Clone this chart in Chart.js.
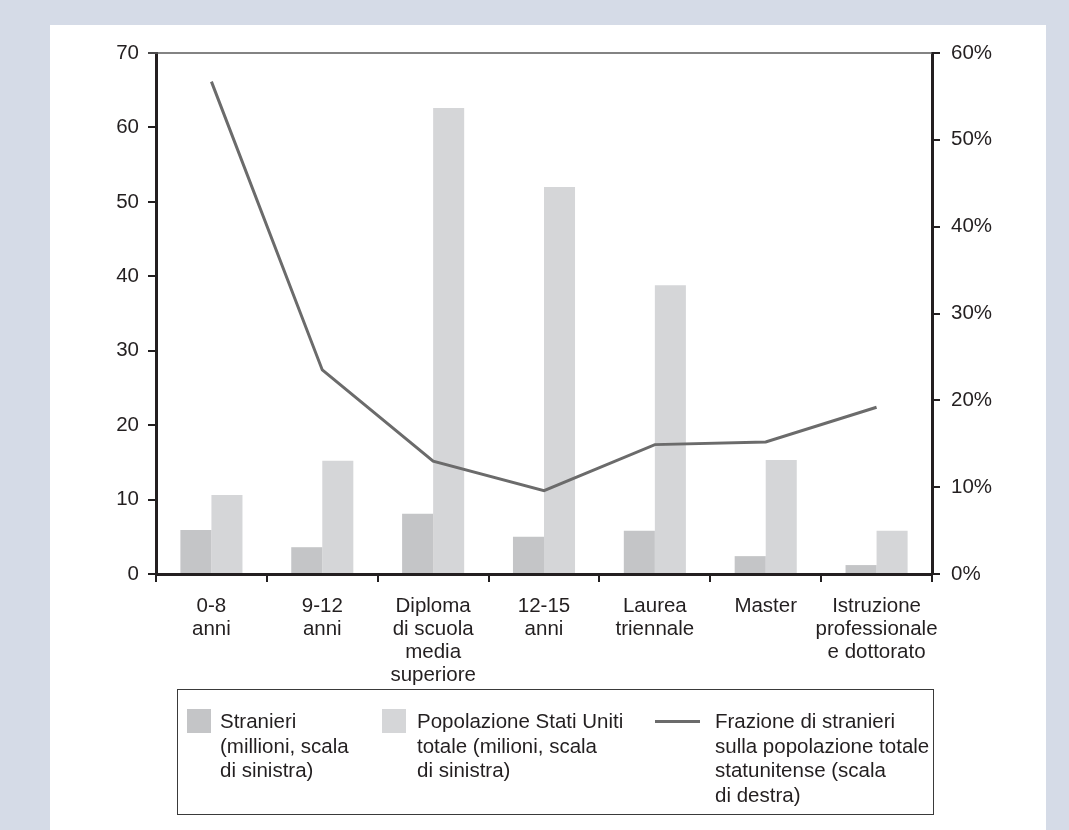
<!DOCTYPE html>
<html>
<head>
<meta charset="utf-8">
<script src="https://cdn.jsdelivr.net/npm/chart.js@4.4.1/dist/chart.umd.min.js"></script>
<style>
  html, body { margin: 0; padding: 0; }
  body { width: 1069px; height: 830px; background: #d5dbe7; position: relative; overflow: hidden;
         font-family: "Liberation Sans", Arial, sans-serif; color: #231f20; }
  #panel { position: absolute; left: 50px; top: 25px; width: 996px; height: 805px; background: #ffffff; }
  #chart { position: absolute; left: 0; top: 0; }
  #legend { position: absolute; left: 177px; top: 689px; width: 757px; height: 126px;
            border: 1.5px solid #3a3a3a; box-sizing: border-box; }
  .item { position: absolute; font-size: 20.5px; line-height: 24.5px; white-space: nowrap; }
  .sw { position: absolute; }
</style>
</head>
<body>
<div id="panel"></div>
<canvas id="chart" width="1069" height="830"></canvas>
<div id="legend">
  <div class="sw" style="left:9px; top:19px; width:24px; height:24px; background:#c4c5c7;"></div>
  <div class="item" style="left:42px; top:19px;">Stranieri<br>(millioni, scala<br>di sinistra)</div>
  <div class="sw" style="left:204px; top:19px; width:24px; height:24px; background:#d5d6d8;"></div>
  <div class="item" style="left:239px; top:19px;">Popolazione Stati Uniti<br>totale (milioni, scala<br>di sinistra)</div>
  <div class="sw" style="left:477px; top:30px; width:45px; height:3px; background:#6b6b6b;"></div>
  <div class="item" style="left:537px; top:19px;">Frazione di stranieri<br>sulla popolazione totale<br>statunitense (scala<br>di destra)</div>
</div>
<script>
const categories = [
  ["0-8", "anni"],
  ["9-12", "anni"],
  ["Diploma", "di scuola", "media", "superiore"],
  ["12-15", "anni"],
  ["Laurea", "triennale"],
  ["Master"],
  ["Istruzione", "professionale", "e dottorato"]
];
const stranieri = [5.9, 3.6, 8.1, 5.0, 5.8, 2.4, 1.2];
const popolazioneTotale = [10.6, 15.2, 62.6, 52.0, 38.8, 15.3, 5.8];
const frazioneStranieri = [56.7, 23.5, 13.0, 9.6, 14.9, 15.2, 19.2];
const leftTicks = [0, 10, 20, 30, 40, 50, 60, 70];
const rightTicks = [0, 10, 20, 30, 40, 50, 60];

const DARK = '#231f20';
const FAMILY = '"Liberation Sans", Arial, sans-serif';
const TICKFONT = { family: FAMILY, size: 20.5 };

const topLine = {
  id: 'topLine',
  afterDatasetsDraw(chart) {
    const { ctx, chartArea, scales } = chart;
    const y = scales.y.getPixelForValue(leftTicks[leftTicks.length - 1]);
    ctx.save();
    ctx.strokeStyle = '#5a5a5a';
    ctx.lineWidth = 1.5;
    ctx.beginPath();
    ctx.moveTo(chartArea.left - 8, y);
    ctx.lineTo(chartArea.right, y);
    ctx.stroke();
    ctx.restore();
  }
};

new Chart(document.getElementById('chart'), {
  type: 'bar',
  data: {
    labels: categories,
    datasets: [
      { type: 'line', label: 'Frazione di stranieri', data: frazioneStranieri, yAxisID: 'y1',
        borderColor: '#6b6b6b', borderWidth: 3, pointRadius: 0, tension: 0, fill: false, order: 0 },
      { label: 'Stranieri', data: stranieri, yAxisID: 'y', backgroundColor: '#c4c5c7',
        categoryPercentage: 0.56, barPercentage: 1.0, order: 1 },
      { label: 'Popolazione Stati Uniti totale', data: popolazioneTotale, yAxisID: 'y', backgroundColor: '#d5d6d8',
        categoryPercentage: 0.56, barPercentage: 1.0, order: 1 }
    ]
  },
  options: {
    responsive: false,
    animation: false,
    devicePixelRatio: 1,
    layout: { padding: { top: 53, left: 0, right: 0, bottom: 0 } },
    plugins: { legend: { display: false }, tooltip: { enabled: false } },
    scales: {
      x: {
        offset: true,
        grid: { offset: true, drawOnChartArea: false, drawTicks: true, tickLength: 8, color: DARK, lineWidth: 2 },
        border: { display: true, width: 3, color: DARK },
        ticks: { font: { family: FAMILY, size: 20.5, lineHeight: 1.12 }, color: DARK, padding: 13, maxRotation: 0, autoSkip: false },
        afterFit(scale) { scale.height = 256; }
      },
      y: {
        position: 'left', min: 0, max: 70,
        afterBuildTicks(scale) { scale.ticks = leftTicks.map(v => ({ value: v })); },
        grid: { drawOnChartArea: false, drawTicks: true, tickLength: 8, color: DARK, lineWidth: 2 },
        border: { display: true, width: 3, color: DARK },
        ticks: { font: TICKFONT, color: DARK, padding: 9 },
        afterFit(scale) { scale.width = 156; }
      },
      y1: {
        position: 'right', min: 0, max: 60,
        afterBuildTicks(scale) { scale.ticks = rightTicks.map(v => ({ value: v })); },
        grid: { drawOnChartArea: false, drawTicks: true, tickLength: 8, color: DARK, lineWidth: 2 },
        border: { display: true, width: 3, color: DARK },
        ticks: { font: TICKFONT, color: DARK, padding: 11, callback: v => v + '%' },
        afterFit(scale) { scale.width = 137; }
      }
    }
  },
  plugins: [topLine]
});
</script>
</body>
</html>
